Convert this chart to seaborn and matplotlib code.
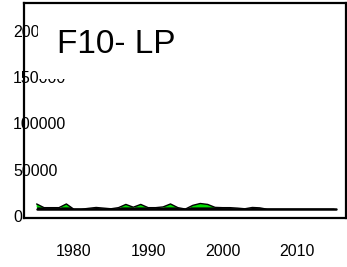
import numpy as np
import pandas as pd
import matplotlib
matplotlib.use("Agg")
import matplotlib.pyplot as plt
from matplotlib.patches import Rectangle
import seaborn as sns

# ---------------------- Data ----------------------

years = list(range(1975, 2016))
catch = [13000, 9000, 9000, 9000, 13000, 7300, 7300, 8300, 9200, 8500,
         7800, 9000, 12500, 9500, 12500, 9000, 9000, 9800, 13000, 9000,
         7500, 11500, 13500, 12500, 9300, 9000, 9000, 8500, 7800, 9200,
         8800, 7300, 7300, 7300, 7300, 7300, 7300, 7300, 7300, 7300, 7300]
base_level = 7300
green_level = 9300

title = "F10- LP"
xticks = [1980, 1990, 2000, 2010]
yticks = [0, 50000, 100000, 150000, 200000]
ytick_labels = ["0", "50000", "100000", "150000", "200000"]

df = pd.DataFrame({"year": years, "catch": catch})

# ---------------------- Plot ----------------------

sns.set_style("white")
plt.rcParams["font.family"] = ["Liberation Sans", "DejaVu Sans"]
plt.rcParams["text.color"] = "black"
plt.rcParams["xtick.color"] = "black"
plt.rcParams["ytick.color"] = "black"
plt.rcParams["xtick.labelcolor"] = "black"
plt.rcParams["ytick.labelcolor"] = "black"

fig = plt.figure(figsize=(3.47, 2.67), dpi=100)
ax = fig.add_axes([24 / 347, 49 / 267, 322 / 347, 215 / 267])

y = df["catch"].to_numpy()
ax.fill_between(df["year"], base_level, y, color="black", lw=0, zorder=2)
ax.fill_between(df["year"], green_level, y, where=y > green_level,
                interpolate=True, color="#00dd00", lw=0, zorder=2.2)
sns.lineplot(data=df, x="year", y="catch", color="black", lw=1.0, ax=ax, zorder=2.4)
ax.axhline(base_level, xmin=(1975 - 1973.3) / 43.3, xmax=(2015.3 - 1973.3) / 43.3,
           color="black", lw=1.8, zorder=2.4)

ax.set_xlim(1973.3, 2016.6)
ax.set_ylim(-2160, 230000)
ax.set_xlabel("")
ax.set_ylabel("")

ax.set_xticks(xticks)
ax.set_xticklabels([str(t) for t in xticks], fontsize=11.5)
ax.set_yticks(yticks)
ax.set_yticklabels(ytick_labels, fontsize=11.5)
ax.tick_params(axis="x", direction="out", length=7.5, width=1.3, pad=11)
ax.tick_params(axis="y", direction="out", length=3, width=1.2, pad=5)
for lab in ax.get_yticklabels():
    lab.set_horizontalalignment("left")

for sp in ax.spines.values():
    sp.set_color("black")
    sp.set_linewidth(1.6)
    sp.set_zorder(5)

# white box behind the title hides part of the y labels
ax.add_patch(Rectangle((0.045, 0.645), 0.5, 0.335, transform=ax.transAxes,
                       facecolor="white", edgecolor="none", clip_on=False, zorder=3))
ax.text(0.103, 0.768, title, transform=ax.transAxes, fontsize=24,
        color="black", ha="left", va="baseline", zorder=4)

fig.savefig("out.png", dpi=100)
